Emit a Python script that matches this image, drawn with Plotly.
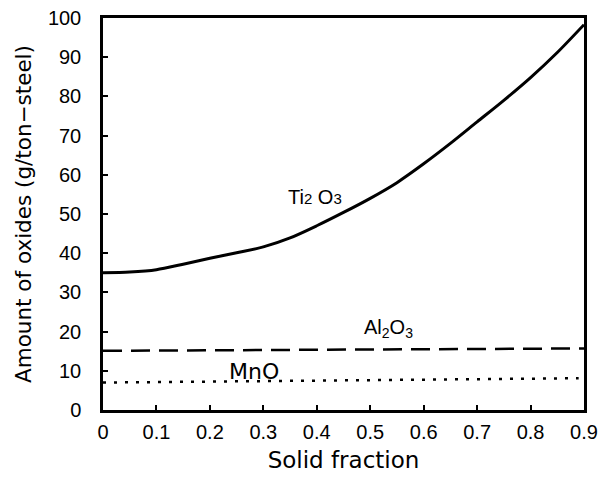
import plotly.graph_objects as go

x_ti = [0, 0.05, 0.1, 0.15, 0.2, 0.25, 0.3, 0.35, 0.4, 0.45, 0.5, 0.55, 0.6, 0.65, 0.7, 0.75, 0.8, 0.85, 0.9]
y_ti = [35, 35.2, 35.8, 37.2, 38.7, 40.1, 41.6, 43.9, 47.0, 50.4, 54.0, 58.0, 62.8, 68.0, 73.5, 79.0, 84.8, 91.2, 98.3]
x_al = [0, 0.9]
y_al = [15.1, 15.7]
x_mn = [0, 0.89]
y_mn = [7.0, 8.1]

xticks = [0, 0.1, 0.2, 0.3, 0.4, 0.5, 0.6, 0.7, 0.8, 0.9]
xtick_text = ["0", "0.1", "0.2", "0.3", "0.4", "0.5", "0.6", "0.7", "0.8", "0.9"]
yticks = [0, 10, 20, 30, 40, 50, 60, 70, 80, 90, 100]

FAM = "Liberation Sans, Arial, sans-serif"
FAM2 = "DejaVu Sans, sans-serif"

fig = go.Figure()
fig.add_trace(go.Scatter(x=x_ti, y=y_ti, mode="lines", line=dict(color="black", width=3, shape="spline", smoothing=0.8)))
fig.add_trace(go.Scatter(x=x_al, y=y_al, mode="lines", line=dict(color="black", width=2.5, dash="19px,9px")))
fig.add_trace(go.Scatter(x=x_mn, y=y_mn, mode="lines", line=dict(color="black", width=2.5, dash="3px,8px")))

fig.add_annotation(x=0.397, y=54.3, text='Ti<span style="font-size:15px">2</span> O<span style="font-size:15px">3</span>',
                   showarrow=False, font=dict(size=20, family=FAM, color="black"))
fig.add_annotation(x=0.535, y=20.9, text="Al<sub>2</sub>O<sub>3</sub>", showarrow=False,
                   font=dict(size=20, family=FAM, color="black"))
fig.add_annotation(x=0.283, y=9.9, text="MnO", showarrow=False,
                   font=dict(size=22, family=FAM2, color="black"))

fig.update_layout(
    width=613, height=489,
    margin=dict(l=103, r=29, t=18, b=79, autoexpand=False),
    plot_bgcolor="white", paper_bgcolor="white",
    showlegend=False,
    font=dict(size=20, family=FAM, color="black"),
)
fig.update_xaxes(
    range=[0, 0.9], tickvals=xticks, ticktext=xtick_text, automargin=False,
    showline=True, linecolor="black", linewidth=2.5, mirror=True,
    ticks="inside", ticklen=5, tickwidth=1.5, tickcolor="black",
    showgrid=False, zeroline=False, ticklabelstandoff=2,
    title=dict(text="Solid fraction", font=dict(size=23, family=FAM2, color="black"), standoff=11),
    tickfont=dict(size=20, family=FAM, color="black"),
)
fig.update_yaxes(
    range=[0, 100], tickvals=yticks, automargin=False,
    showline=True, linecolor="black", linewidth=2.5, mirror=True,
    ticks="inside", ticklen=5, tickwidth=1.5, tickcolor="black",
    showgrid=False, zeroline=False, ticklabelstandoff=15,
    title=dict(text="Amount of oxides (g/ton−steel)", font=dict(size=21.5, family=FAM2, color="black"), standoff=11),
    tickfont=dict(size=20, family=FAM, color="black"),
)
fig.write_html("out.html", config={"displayModeBar": False},
               post_script="document.body.style.margin='0px';document.body.style.overflow='hidden';")
